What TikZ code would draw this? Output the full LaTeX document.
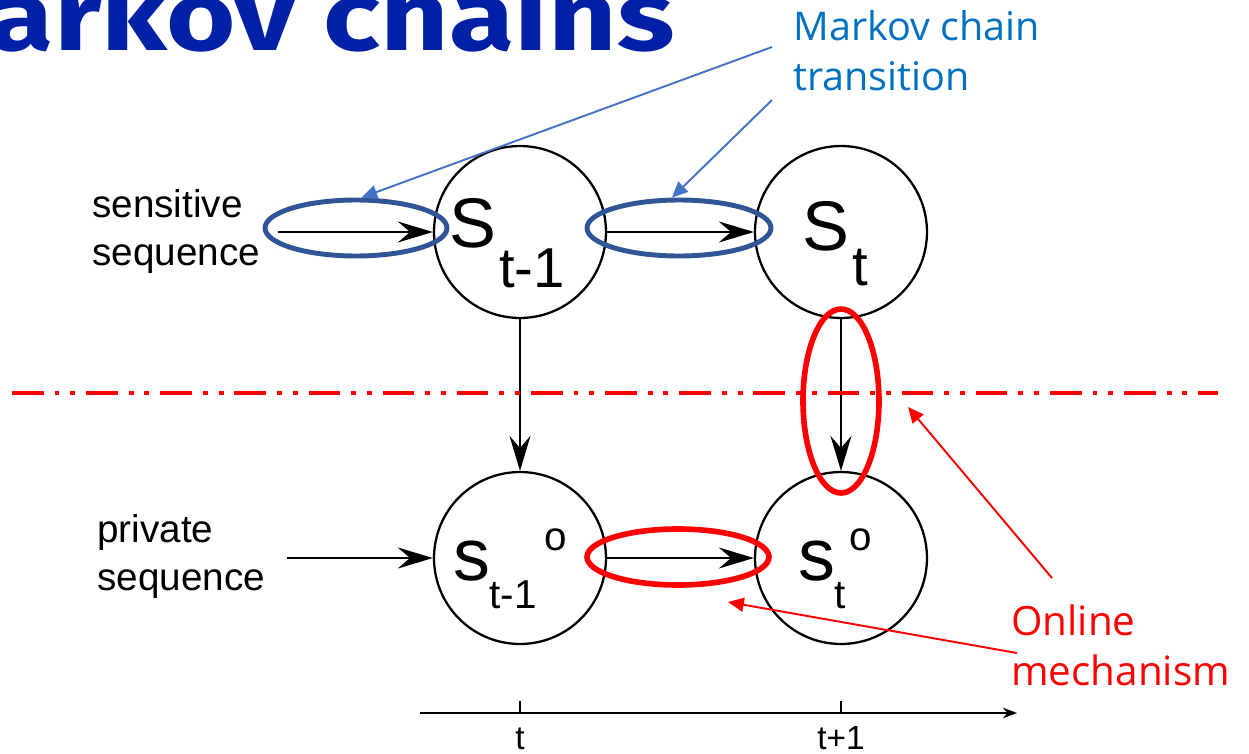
\documentclass[tikz,border=0pt]{standalone}
\usepackage{fontspec}
\setmainfont{Liberation Sans}
\newfontfamily\notefont{Open Sans}
\newfontfamily\headfont{Fira Sans}
\usetikzlibrary{arrows.meta, shapes.geometric}
\definecolor{titleBlue}{RGB}{0, 33, 165}
\definecolor{noteBlue}{RGB}{0, 112, 192}
\definecolor{ptrBlue}{RGB}{68, 114, 196}
\definecolor{ringBlue}{RGB}{47, 85, 151}
\definecolor{mechRed}{RGB}{255, 0, 0}

\begin{document}
\begin{tikzpicture}[x=0.02cm, y=-0.02cm, >={Stealth[length=20pt,width=12pt,inset=7pt]},
  st/.style={circle, draw, line width=1.3pt, minimum size=3.44cm, inner sep=0},
  lbl/.style={anchor=base west, inner sep=0},
  big/.style={font=\fontsize{40}{44}\selectfont},
  sub/.style={font=\fontsize{32}{36}\selectfont},
  sml/.style={font=\fontsize{23}{26}\selectfont},
  seq/.style={anchor=base west, inner sep=0, align=left, font=\fontsize{22}{27}\selectfont},
  ring/.style={ellipse, draw, line width=2.8pt, inner sep=0},
  ptr/.style={-{Triangle[length=9pt,width=8pt]}, line width=1.1pt},
  flow/.style={->, line width=1.1pt}]

  \useasboundingbox (0,0) rectangle (1249,754);
  \clip (0,0) rectangle (1249,754);

  \node[anchor=base east, inner sep=0, text=titleBlue,
        font=\headfont\bfseries\fontsize{56}{64}\selectfont] (title) at (675,50)
        {\scalebox{1.21}[1]{Markov chains}};

  % states
  \node[st] (s1) at (520,232) {};
  \node[st] (s2) at (841,232) {};
  \node[st] (o1) at (520,558) {};
  \node[st] (o2) at (841,558) {};

  \node[lbl, big] (s1S) at (449,247) {S};
  \node[lbl, sub] (s1t) at (499,287) {t-1};
  \node[lbl, big] (s2S) at (802,250) {S};
  \node[lbl, sub] (s2t) at (852,285) {t};
  \node[lbl, font=\fontsize{42}{46}\selectfont] (o1s) at (453,580) {s};
  \node[lbl, sml] (o1t) at (489,608) {t-1};
  \node[lbl, sml] (o1o) at (544,550) {o};
  \node[lbl, font=\fontsize{42}{46}\selectfont] (o2s) at (798,580) {s};
  \node[lbl, sml] (o2t) at (834,608) {t};
  \node[lbl, sml] (o2o) at (849,550) {o};

  \node[seq] (sens) at (92,265) {sensitive\\sequence};
  \node[seq] (priv) at (97,590) {private\\sequence};
  \coordinate (sensIn) at (278,232);
  \coordinate (privIn) at (287,558);

  \draw[flow] (sensIn) -- (s1.west);
  \draw[flow] (s1.east) -- (s2.west);
  \draw[flow] (s1.south) -- (o1.north);
  \draw[flow] (s2.south) -- (o2.north);
  \draw[flow] (privIn) -- (o1.west);
  \draw[flow] (o1.east) -- (o2.west);

  % boundary between sensitive and released data
  \draw[mechRed, line width=2pt,
        dash pattern=on 18pt off 6.2pt on 2.8pt off 6.2pt on 2.8pt off 6.2pt] (12,393) -- (1218,393);

  % rings
  \node[ring, draw=ringBlue, minimum width=3.64cm, minimum height=1.12cm] (r1) at (356,228) {};
  \node[ring, draw=ringBlue, minimum width=3.68cm, minimum height=1.12cm] (r2) at (679,228) {};
  \node[ring, draw=mechRed, line width=3.2pt, minimum width=3.64cm, minimum height=1.12cm] (r3) at (678,557) {};
  \node[ring, draw=mechRed, line width=3.2pt, minimum width=1.52cm, minimum height=3.68cm] (r4) at (841,401) {};

  % notes
  \node[seq, text=noteBlue, font=\notefont\fontsize{22.5}{28.4}\selectfont] (mct) at (793,90) {Markov chain\\transition};
  \node[seq, text=mechRed, font=\notefont\fontsize{23}{28.4}\selectfont] (onl) at (1011,685) {Online\\mechanism};

  \coordinate (mctA) at (772,47);
  \coordinate (mctB) at (772,100);
  \draw[ptr, ptrBlue] (mctA) -- (r1.80);
  \draw[ptr, ptrBlue] (mctB) -- (r2.103);

  \coordinate (onlA) at (1052,578);
  \coordinate (onlB) at (1017,653);
  \coordinate (lineHit) at (908,407);
  \coordinate (ringHit) at (728,602);
  \draw[ptr, mechRed] (onlA) -- (lineHit);
  \draw[ptr, mechRed] (onlB) -- (ringHit);

  % time axis
  \coordinate (axL) at (420,713);
  \coordinate (axR) at (1017,713);
  \draw[-{Stealth[length=8pt,width=6pt]}, line width=1.1pt] (axL) -- (axR);
  \foreach \x/\tl [count=\i] in {520/t, 841/t+1} {
    \draw[line width=1.1pt] (\x,713) -- (\x,701);
    \node[anchor=base, inner sep=0, font=\fontsize{19}{22}\selectfont] (tk\i) at (\x,749) {\tl};
  }

\end{tikzpicture}
\end{document}
